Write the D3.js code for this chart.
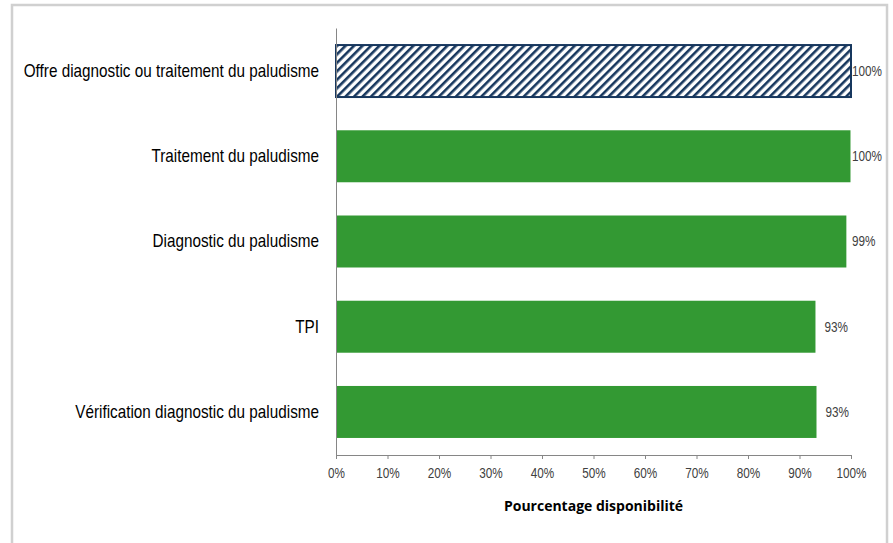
<!DOCTYPE html>
<html>
<head>
<meta charset="utf-8">
<script src="https://cdn.jsdelivr.net/npm/d3@7"></script>
<style>
  body { margin: 0; background: #fff; }
  svg { display: block; }
</style>
</head>
<body>
<svg id="chart"></svg>
<script>
// data
const categories = [
    "Offre diagnostic ou traitement du paludisme",
    "Traitement du paludisme",
    "Diagnostic du paludisme",
    "TPI",
    "Vérification diagnostic du paludisme",
];
const values = [100, 99.9, 99.1, 93.1, 93.3];
const hatched = [true, false, false, false, false];
const xTicks = [0, 10, 20, 30, 40, 50, 60, 70, 80, 90, 100];
const xTitle = "Pourcentage disponibilité";

const width = 893;
const height = 543;
const margin = { top: 28, right: 42, bottom: 88, left: 336 };
const innerW = width - margin.left - margin.right;
const innerH = height - margin.top - margin.bottom;

// no Arial Narrow here, so squeeze Liberation Sans horizontally
const narrowFont = "'Liberation Sans', Arial, sans-serif";
const sx = 0.84;

const svg = d3.select("#chart").attr("width", width).attr("height", height);

// outer frame
svg.append("rect")
    .attr("x", 12).attr("y", 5)
    .attr("width", 875).attr("height", 560)
    .attr("fill", "none")
    .attr("stroke", "#d0d0d0")
    .attr("stroke-width", 2.5);

const defs = svg.append("defs");
const pat = defs.append("pattern")
    .attr("id", "hatch")
    .attr("patternUnits", "userSpaceOnUse")
    .attr("width", 6).attr("height", 6)
    .attr("patternTransform", "rotate(45)");
pat.append("rect").attr("width", 6).attr("height", 6).attr("fill", "#fff");
pat.append("rect").attr("x", 0).attr("width", 2.6).attr("height", 6).attr("fill", "#17375e");

const chart = svg.append("g").attr("transform", `translate(${margin.left},${margin.top})`);

const x = d3.scaleLinear().domain([0, 100]).range([0, innerW]);
const y = d3.scaleBand().domain(categories).range([0, innerH]).paddingInner(0.39).paddingOuter(0.2);

// squeeze a text element around its own x position
const squeeze = (sel) => {
    sel.each(function () {
        const t = d3.select(this);
        const px = +t.attr("x") || 0;
        t.attr("x", px / sx).attr("transform", `scale(${sx},1)`);
    });
};

// bars
chart.selectAll(".bar")
    .data(categories)
    .enter()
    .append("rect")
    .attr("class", "bar")
    .attr("x", x(0))
    .attr("y", (d) => y(d))
    .attr("width", (d, i) => x(values[i]) - x(0))
    .attr("height", y.bandwidth())
    .attr("fill", (d, i) => (hatched[i] ? "url(#hatch)" : "#339933"))
    .attr("stroke", (d, i) => (hatched[i] ? "#17375e" : "none"))
    .attr("stroke-width", 2);

// value labels
chart.selectAll(".val")
    .data(categories)
    .enter()
    .append("text")
    .attr("class", "val")
    .attr("x", (d, i) => Math.min(x(values[i]) + 9, innerW + 1))
    .attr("y", (d) => y(d) + y.bandwidth() / 2 + 5)
    .attr("font-family", narrowFont)
    .attr("font-size", 14)
    .attr("fill", "#404040")
    .text((d, i) => Math.round(values[i]) + "%")
    .call(squeeze);

// x axis
const xAxis = chart.append("g")
    .attr("transform", `translate(0,${innerH})`)
    .call(d3.axisBottom(x).tickValues(xTicks).tickSize(4).tickSizeOuter(0).tickFormat((d) => d + "%"));
xAxis.select(".domain").attr("stroke", "#868686");
xAxis.selectAll(".tick line").attr("stroke", "#868686");
xAxis.selectAll(".tick text")
    .attr("font-family", narrowFont)
    .attr("font-size", 14)
    .attr("fill", "#404040")
    .attr("dy", "1.15em")
    .call(squeeze);

// y axis
const yAxis = chart.append("g")
    .call(d3.axisLeft(y).tickSize(0).tickPadding(17));
yAxis.select(".domain").attr("stroke", "#868686");
yAxis.selectAll(".tick text")
    .attr("font-family", narrowFont)
    .attr("font-size", 18.2)
    .attr("fill", "#000")
    .call(squeeze);

// axis title
chart.append("text")
    .attr("x", innerW / 2)
    .attr("y", innerH + 56)
    .attr("text-anchor", "middle")
    .attr("font-family", "'Open Sans', sans-serif")
    .attr("font-weight", "bold")
    .attr("font-size", 14)
    .attr("fill", "#000")
    .text(xTitle);
</script>
</body>
</html>
